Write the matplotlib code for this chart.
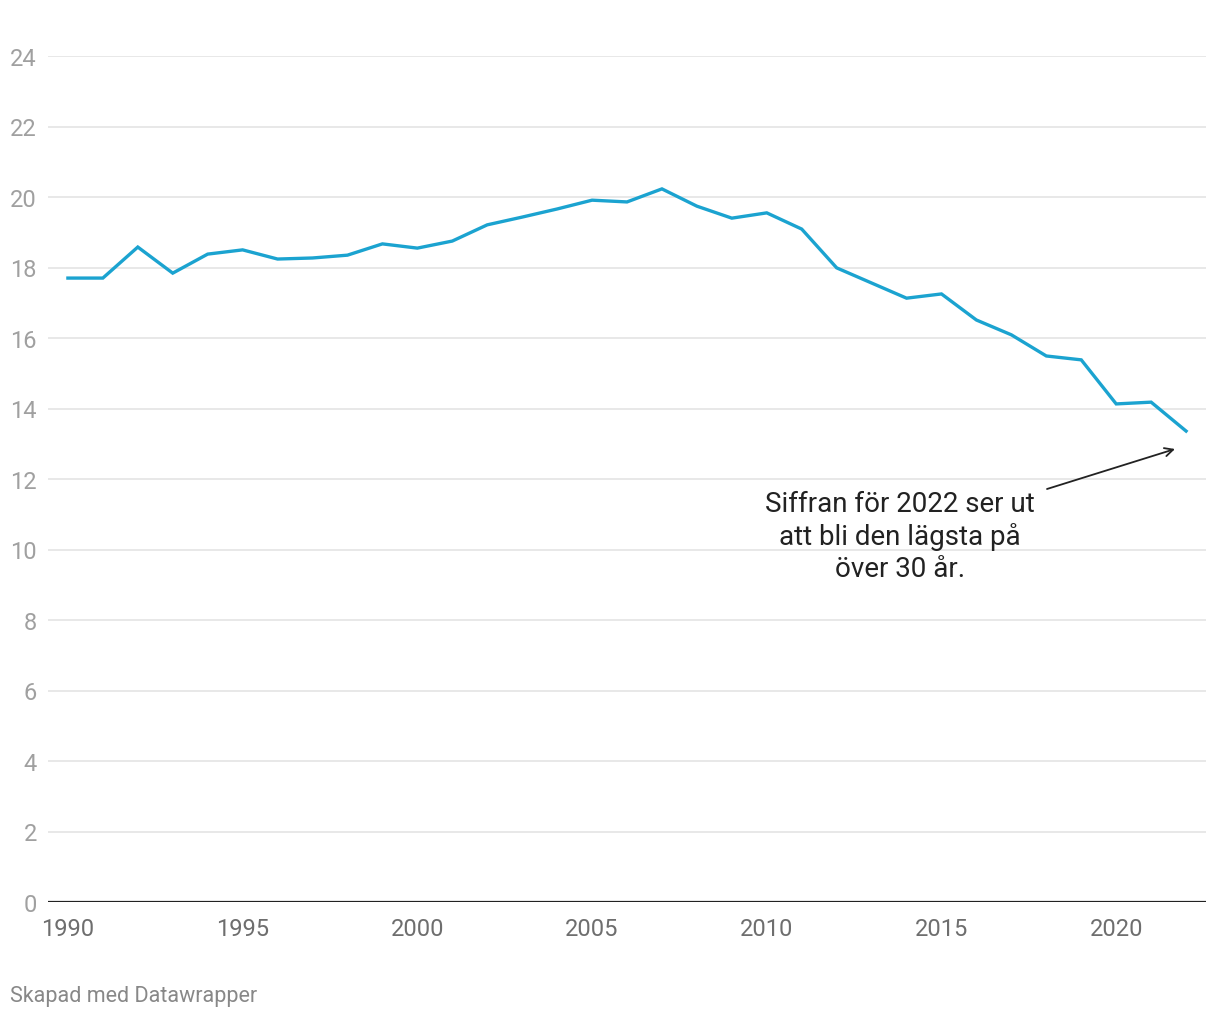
import matplotlib
matplotlib.use("Agg")
import matplotlib.pyplot as plt

plt.rcParams['font.family'] = ['Roboto', 'DejaVu Sans']

years = list(range(1990, 2023))
values = [17.70, 17.70, 18.58, 17.84, 18.38, 18.50, 18.24, 18.27, 18.35, 18.67,
          18.55, 18.75, 19.21, 19.43, 19.66, 19.91, 19.86, 20.23, 19.74, 19.40,
          19.55, 19.09, 17.99, 17.56, 17.13, 17.25, 16.51, 16.09, 15.49, 15.38,
          14.13, 14.18, 13.36]
yticks = list(range(0, 25, 2))
xticks = [1990, 1995, 2000, 2005, 2010, 2015, 2020]
note = "Siffran för 2022 ser ut\natt bli den lägsta på\növer 30 år."
footer = "Skapad med Datawrapper"

W, H = 1220, 1020
fig = plt.figure(figsize=(W / 100, H / 100), dpi=100)
ax = fig.add_axes([48 / W, (H - 903) / H, (1206 - 48) / W, (903 - 57) / H])

ax.plot(years, values, color='#1ba3d0', lw=2.4, solid_joinstyle='miter', zorder=3)

ax.set_xlim(1989.43, 2022.57)
ax.set_ylim(0, 24)
ax.set_yticks(yticks)
ax.set_xticks(xticks)
ax.grid(axis='y', color='#e2e2e2', lw=1.1, zorder=0)
ax.axhline(0, color='#222222', lw=1.6, zorder=4)
for s in ax.spines.values():
    s.set_visible(False)
ax.tick_params(axis='y', length=0, pad=8, labelsize=17, labelcolor='#a0a0a0')
ax.tick_params(axis='x', length=0, pad=11, labelsize=17, labelcolor='#6e6e6e')

fig.text(900 / W, (H - 537) / H, note, ha='center', va='center', fontsize=20,
         color='#222222', linespacing=1.25)

ax.annotate('', xy=(1175, H - 450), xytext=(1047, H - 490),
            xycoords='figure pixels', textcoords='figure pixels',
            arrowprops=dict(arrowstyle='->', color='#222222', lw=1.3,
                            mutation_scale=15, shrinkA=0, shrinkB=0))

fig.text(10 / W, (H - 997) / H, footer, ha='left', va='center', fontsize=15.5,
         color='#888888')

fig.savefig('out.png', dpi=100, facecolor='white')
